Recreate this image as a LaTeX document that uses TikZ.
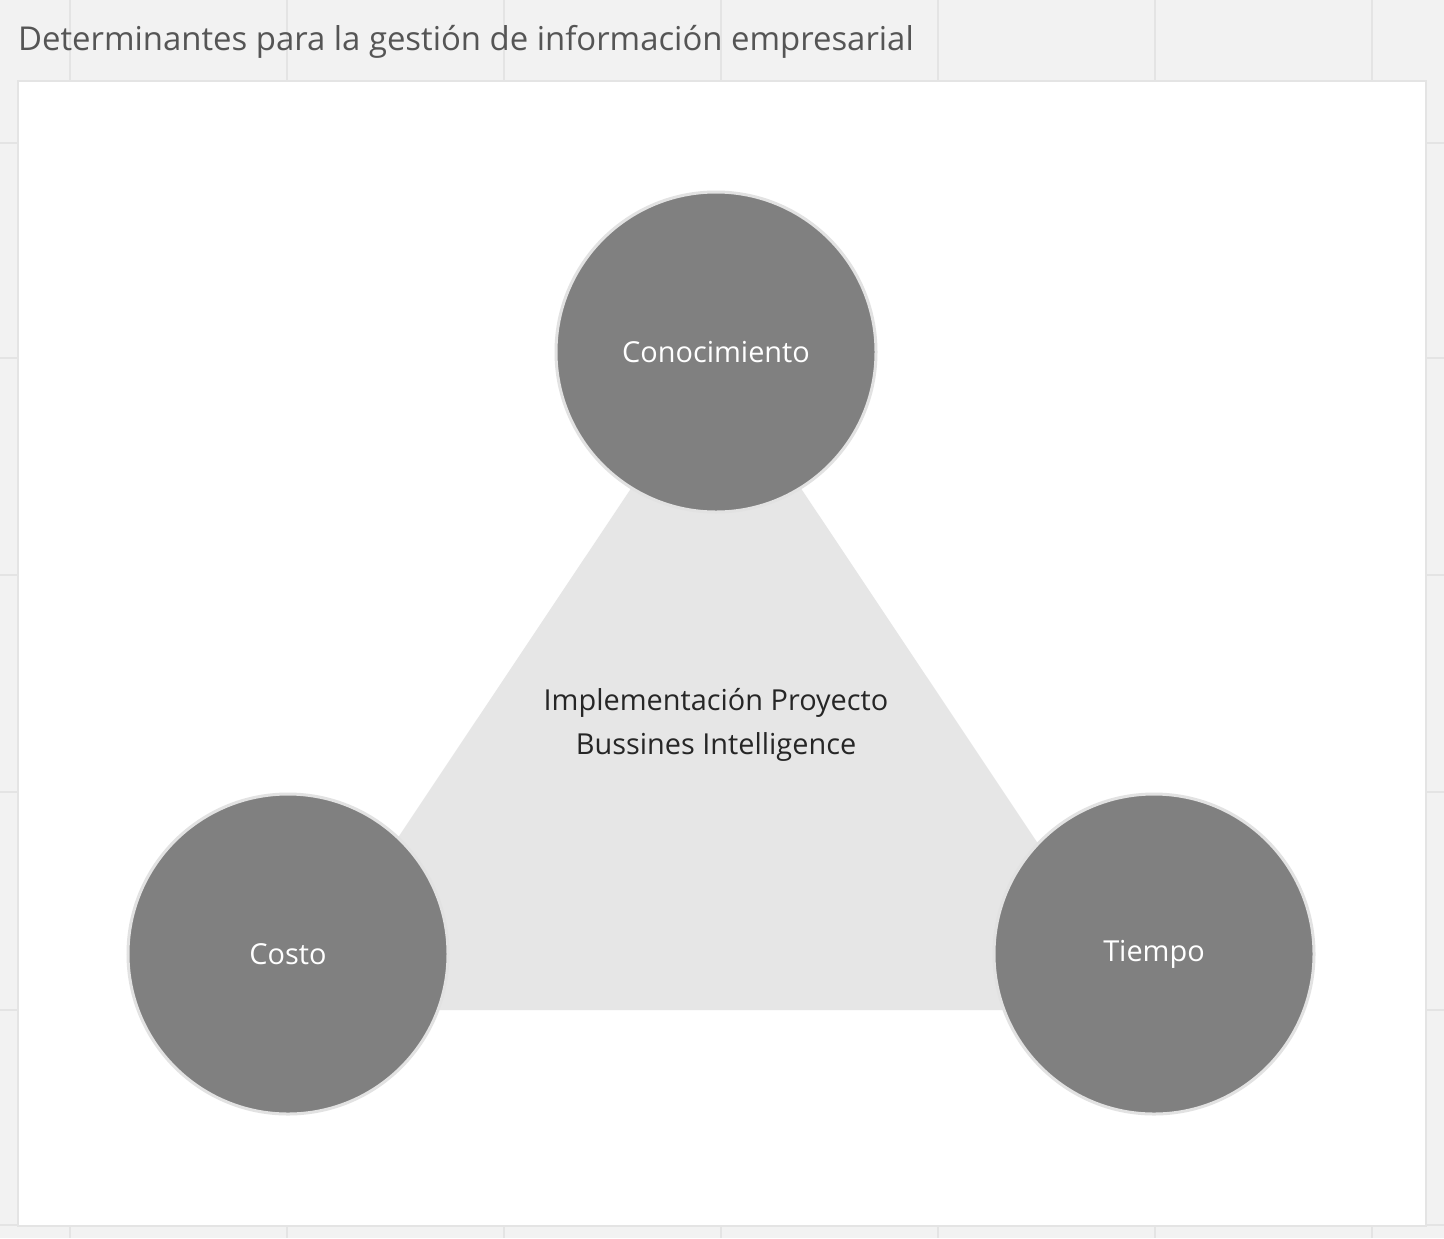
\documentclass[tikz,border=0pt]{standalone}
\usepackage{fontspec}
\setmainfont{Open Sans}
\definecolor{bgc}{HTML}{F2F2F2}
\definecolor{gridc}{HTML}{E4E4E4}
\definecolor{circ}{HTML}{808080}
\definecolor{circb}{HTML}{E2E2E2}
\definecolor{tri}{HTML}{E6E6E6}
\definecolor{titc}{HTML}{555555}
\tikzset{
  circnode/.style={circle,fill=circ,draw=circb,line width=3bp,minimum size=320bp,inner sep=0pt,text=white,font=\fontsize{29}{35}\selectfont},
}
\begin{document}
\begin{tikzpicture}[x=1bp,y=-1bp]
\fill[bgc] (0,0) rectangle (1444,1238);
\useasboundingbox (0,0) rectangle (1444,1238);
\foreach \x in {70,287,504,721,938,1155,1372} \draw[gridc,line width=1.5bp] (\x,0) -- (\x,1238);
\foreach \y in {143,358,575,792,1010,1225} \draw[gridc,line width=1.5bp] (0,\y) -- (1444,\y);
\node[anchor=west,text=titc,font=\fontsize{33}{40}\selectfont,inner sep=0pt] (title) at (18,42) {Determinantes para la gestión de información empresarial};
\draw[fill=white,draw=gridc,line width=2bp] (18,81) rectangle (1426,1226);
\fill[tri] (716,361) -- (283,1010) -- (1149,1010) -- cycle;
\node[font=\fontsize{29}{44}\selectfont,text=black!85,align=center] (center) at (716,725) {Implementación Proyecto\\Bussines Intelligence};
\node[circnode] (con) at (716,352) {Conocimiento};
\node[circnode] (cos) at (288,954) {Costo};
\node[circnode] (tie) at (1154,954) {Tiempo};
\end{tikzpicture}
\end{document}
